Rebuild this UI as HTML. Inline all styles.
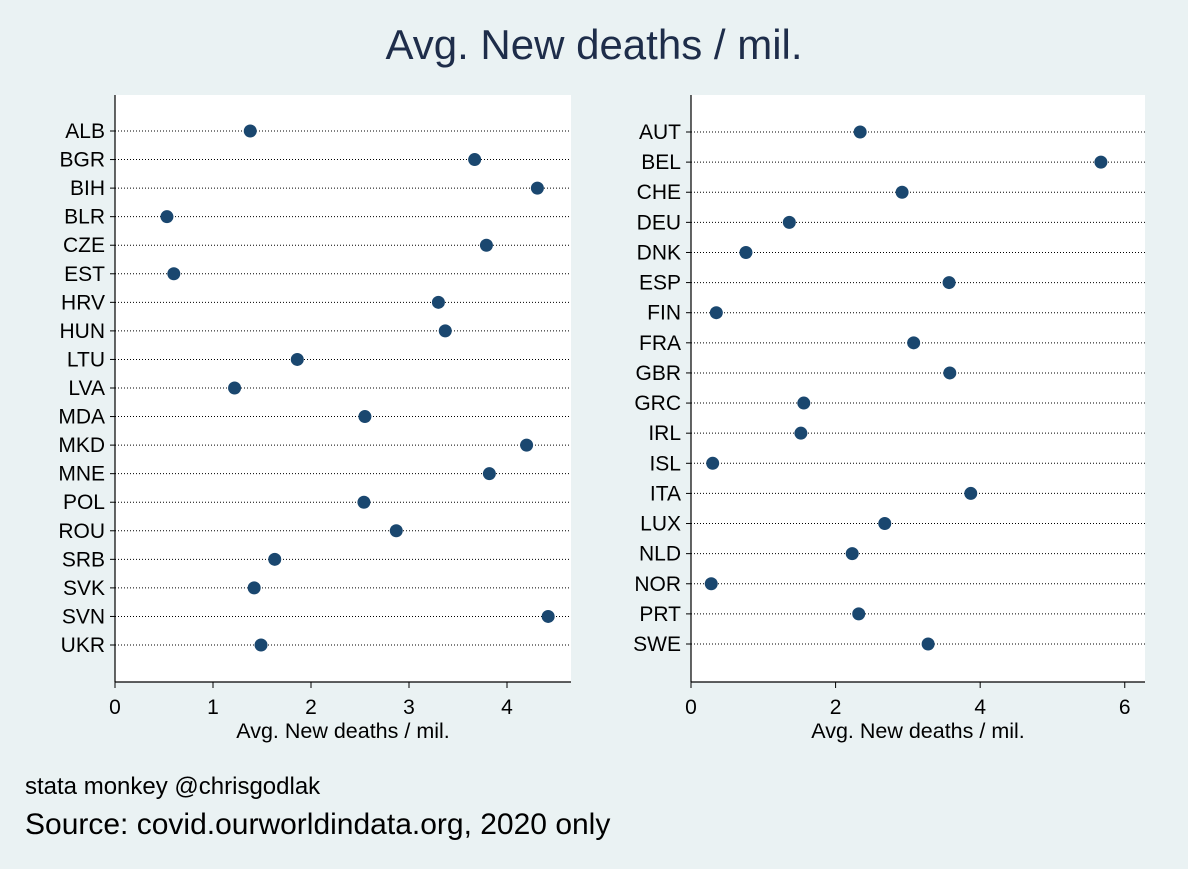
<!DOCTYPE html>
<html><head><meta charset="utf-8"><style>
body{margin:0;background:#eaf2f3;}
svg text{font-family:"Liberation Sans",Arial,sans-serif;fill:#000;}
</style></head><body>
<svg width="1188" height="864">
<rect x="0" y="0" width="1188" height="864" fill="#eaf2f3"/>
<text x="594" y="59" text-anchor="middle" font-size="42" style="fill:#1e2d4a">Avg. New deaths / mil.</text>
<g id="left"></g>
<g id="right"></g>
<text x="25" y="794" font-size="24">stata monkey @chrisgodlak</text>
<text x="25" y="834" font-size="30">Source: covid.ourworldindata.org, 2020 only</text>
</svg>
<script>
const leftCats=["ALB","BGR","BIH","BLR","CZE","EST","HRV","HUN","LTU","LVA","MDA","MKD","MNE","POL","ROU","SRB","SVK","SVN","UKR"];
const leftVals=[1.38,3.67,4.31,0.53,3.79,0.60,3.30,3.37,1.86,1.22,2.55,4.20,3.82,2.54,2.87,1.63,1.42,4.42,1.49];
const leftTicks=[0,1,2,3,4];
const rightCats=["AUT","BEL","CHE","DEU","DNK","ESP","FIN","FRA","GBR","GRC","IRL","ISL","ITA","LUX","NLD","NOR","PRT","SWE"];
const rightVals=[2.34,5.67,2.92,1.36,0.76,3.57,0.35,3.08,3.58,1.56,1.52,0.30,3.87,2.68,2.23,0.28,2.32,3.28];
const rightTicks=[0,2,4,6];
const NS="http://www.w3.org/2000/svg";
function mk(p,t,a){const e=document.createElementNS(NS,t);for(const k in a)e.setAttribute(k,a[k]);p.appendChild(e);return e;}
function panel(g,cats,vals,ticks,x0,x1,xmax,yFirst,yLast){
  const top=95,bot=682;
  const r=mk(g,"rect",{x:x0,y:top,width:x1-x0,height:bot-top,fill:"#fff"});
  
  
  const sx=v=>x0+(v/xmax)*(x1-x0);
  const step=(yLast-yFirst)/(cats.length-1);
  cats.forEach((c,i)=>{
    const y=yFirst+i*step;
    const l=mk(g,"line",{x1:x0,x2:x1,y1:y,y2:y,stroke:"#000","stroke-width":1,"stroke-dasharray":"1,2"});
    
    
    mk(g,"line",{x1:x0-5,x2:x0,y1:y,y2:y,stroke:"#000"});
    const t=mk(g,"text",{x:x0-10,y:y+7,"text-anchor":"end","font-size":21});t.textContent=c;
    
    
    const d=mk(g,"circle",{cx:sx(vals[i]),cy:y,r:6.5,fill:"#1a476f"});
    
    
  });
  mk(g,"line",{x1:x0,x2:x0,y1:top,y2:bot,stroke:"#000","stroke-width":1.2});
  mk(g,"line",{x1:x0,x2:x1,y1:bot,y2:bot,stroke:"#000","stroke-width":1.2});
  ticks.forEach(v=>{
    mk(g,"line",{x1:sx(v),x2:sx(v),y1:bot,y2:bot+6,stroke:"#000"});
    const t=mk(g,"text",{x:sx(v),y:bot+32,"text-anchor":"middle","font-size":21});t.textContent=v;
    
    
  });
  const at=mk(g,"text",{x:(x0+x1)/2,y:738,"text-anchor":"middle","font-size":21.5});at.textContent="Avg. New deaths / mil.";
  
  
}
panel(document.getElementById("left"),leftCats,leftVals,leftTicks,115,571,4.653,131,645);
panel(document.getElementById("right"),rightCats,rightVals,rightTicks,691,1145,6.28,132,644);
</script>
</body></html>
